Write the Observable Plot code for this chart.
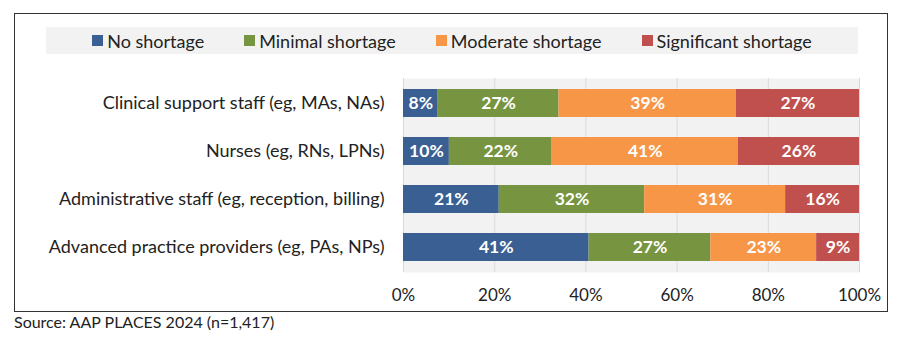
<!DOCTYPE html>
<html>
<head>
<meta charset="utf-8">
<script src="https://cdn.jsdelivr.net/npm/d3@7"></script>
<script src="https://cdn.jsdelivr.net/npm/@observablehq/plot@0.6"></script>
<style>
  html, body { margin: 0; padding: 0; background: #fff; }
  body { width: 908px; height: 360px; position: relative; font-family: Lato, "Open Sans", sans-serif; color: #222; }
  #box { position: absolute; left: 14px; top: 13px; width: 872px; height: 297px; border: 1px solid #333; }
  #legend { position: absolute; left: 31px; top: 13px; width: 812px; height: 27px; background: #f2f2f2;
            display: flex; justify-content: center; align-items: center; gap: 40px; font-size: 18px; }
  .item { display: flex; align-items: center; gap: 4px; }
  .sw { width: 11px; height: 11px; display: inline-block; }
  #chart { position: absolute; left: 0; top: 46px; }
  #source { position: absolute; left: 14px; top: 312px; font-size: 16px; }
</style>
</head>
<body>
<div id="box">
  <div id="legend"></div>
  <div id="chart"></div>
</div>
<div id="source">Source: AAP PLACES 2024 (n=1,417)</div>
<script>
const categories = [
  "Clinical support staff (eg, MAs, NAs)",
  "Nurses (eg, RNs, LPNs)",
  "Administrative staff (eg, reception, billing)",
  "Advanced practice providers (eg, PAs, NPs)"
];
const series = ["No shortage", "Minimal shortage", "Moderate shortage", "Significant shortage"];
const colors = ["#3a6093", "#779540", "#f79646", "#c0504d"];
const noShortage  = [7.6, 10.0, 21.0, 40.7];
const minimal     = [26.5, 22.4, 31.9, 26.7];
const moderate    = [38.9, 40.6, 30.9, 23.2];
const significant = [27.0, 26.4, 16.2, 9.4];
const xTicks = [0, 0.2, 0.4, 0.6, 0.8, 1];

const seriesValues = [noShortage, minimal, moderate, significant];
const data = [];
categories.forEach((c, i) => {
  series.forEach((s, j) => {
    data.push({category: c, series: s, value: seriesValues[j][i]});
  });
});

// legend
const leg = document.getElementById("legend");
series.forEach((s, j) => {
  const it = document.createElement("div");
  it.className = "item";
  it.innerHTML = `<span class="sw" style="background:${colors[j]}"></span><span>${s}</span>`;
  leg.appendChild(it);
});

const stackOpts = {x: "value", y: "category", z: "series", offset: "normalize"};

const chart = Plot.plot({
  width: 872,
  height: 246,
  marginLeft: 388,
  marginRight: 28,
  marginTop: 18,
  marginBottom: 34,
  style: {fontFamily: "Lato, 'Open Sans', sans-serif", fontSize: "16px", color: "#222", background: "transparent"},
  x: {domain: [0, 1], ticks: xTicks, tickFormat: d3.format(".0%"), label: null},
  y: {domain: categories, paddingInner: 0.42, paddingOuter: 0.21, label: null},
  color: {domain: series, range: colors},
  marks: [
    Plot.frame({fill: "#f2f2f2", stroke: null}),
    Plot.gridX(xTicks, {stroke: "#d9d9d9", strokeOpacity: 1}),
    Plot.barX(data, Plot.stackX({...stackOpts, fill: "series"})),
    Plot.text(data, Plot.stackX({...stackOpts, text: d => Math.round(d.value) + "%", fill: "white",
      fontWeight: "bold", fontSize: 17.5})),
    Plot.axisX({ticks: xTicks, tickFormat: d3.format(".0%"), tickSize: 0, tickPadding: 16, fontSize: 17, label: null}),
    Plot.axisY({tickSize: 0, tickPadding: 19, fontSize: 18, label: null})
  ]
});
document.getElementById("chart").appendChild(chart);
</script>
</body>
</html>
